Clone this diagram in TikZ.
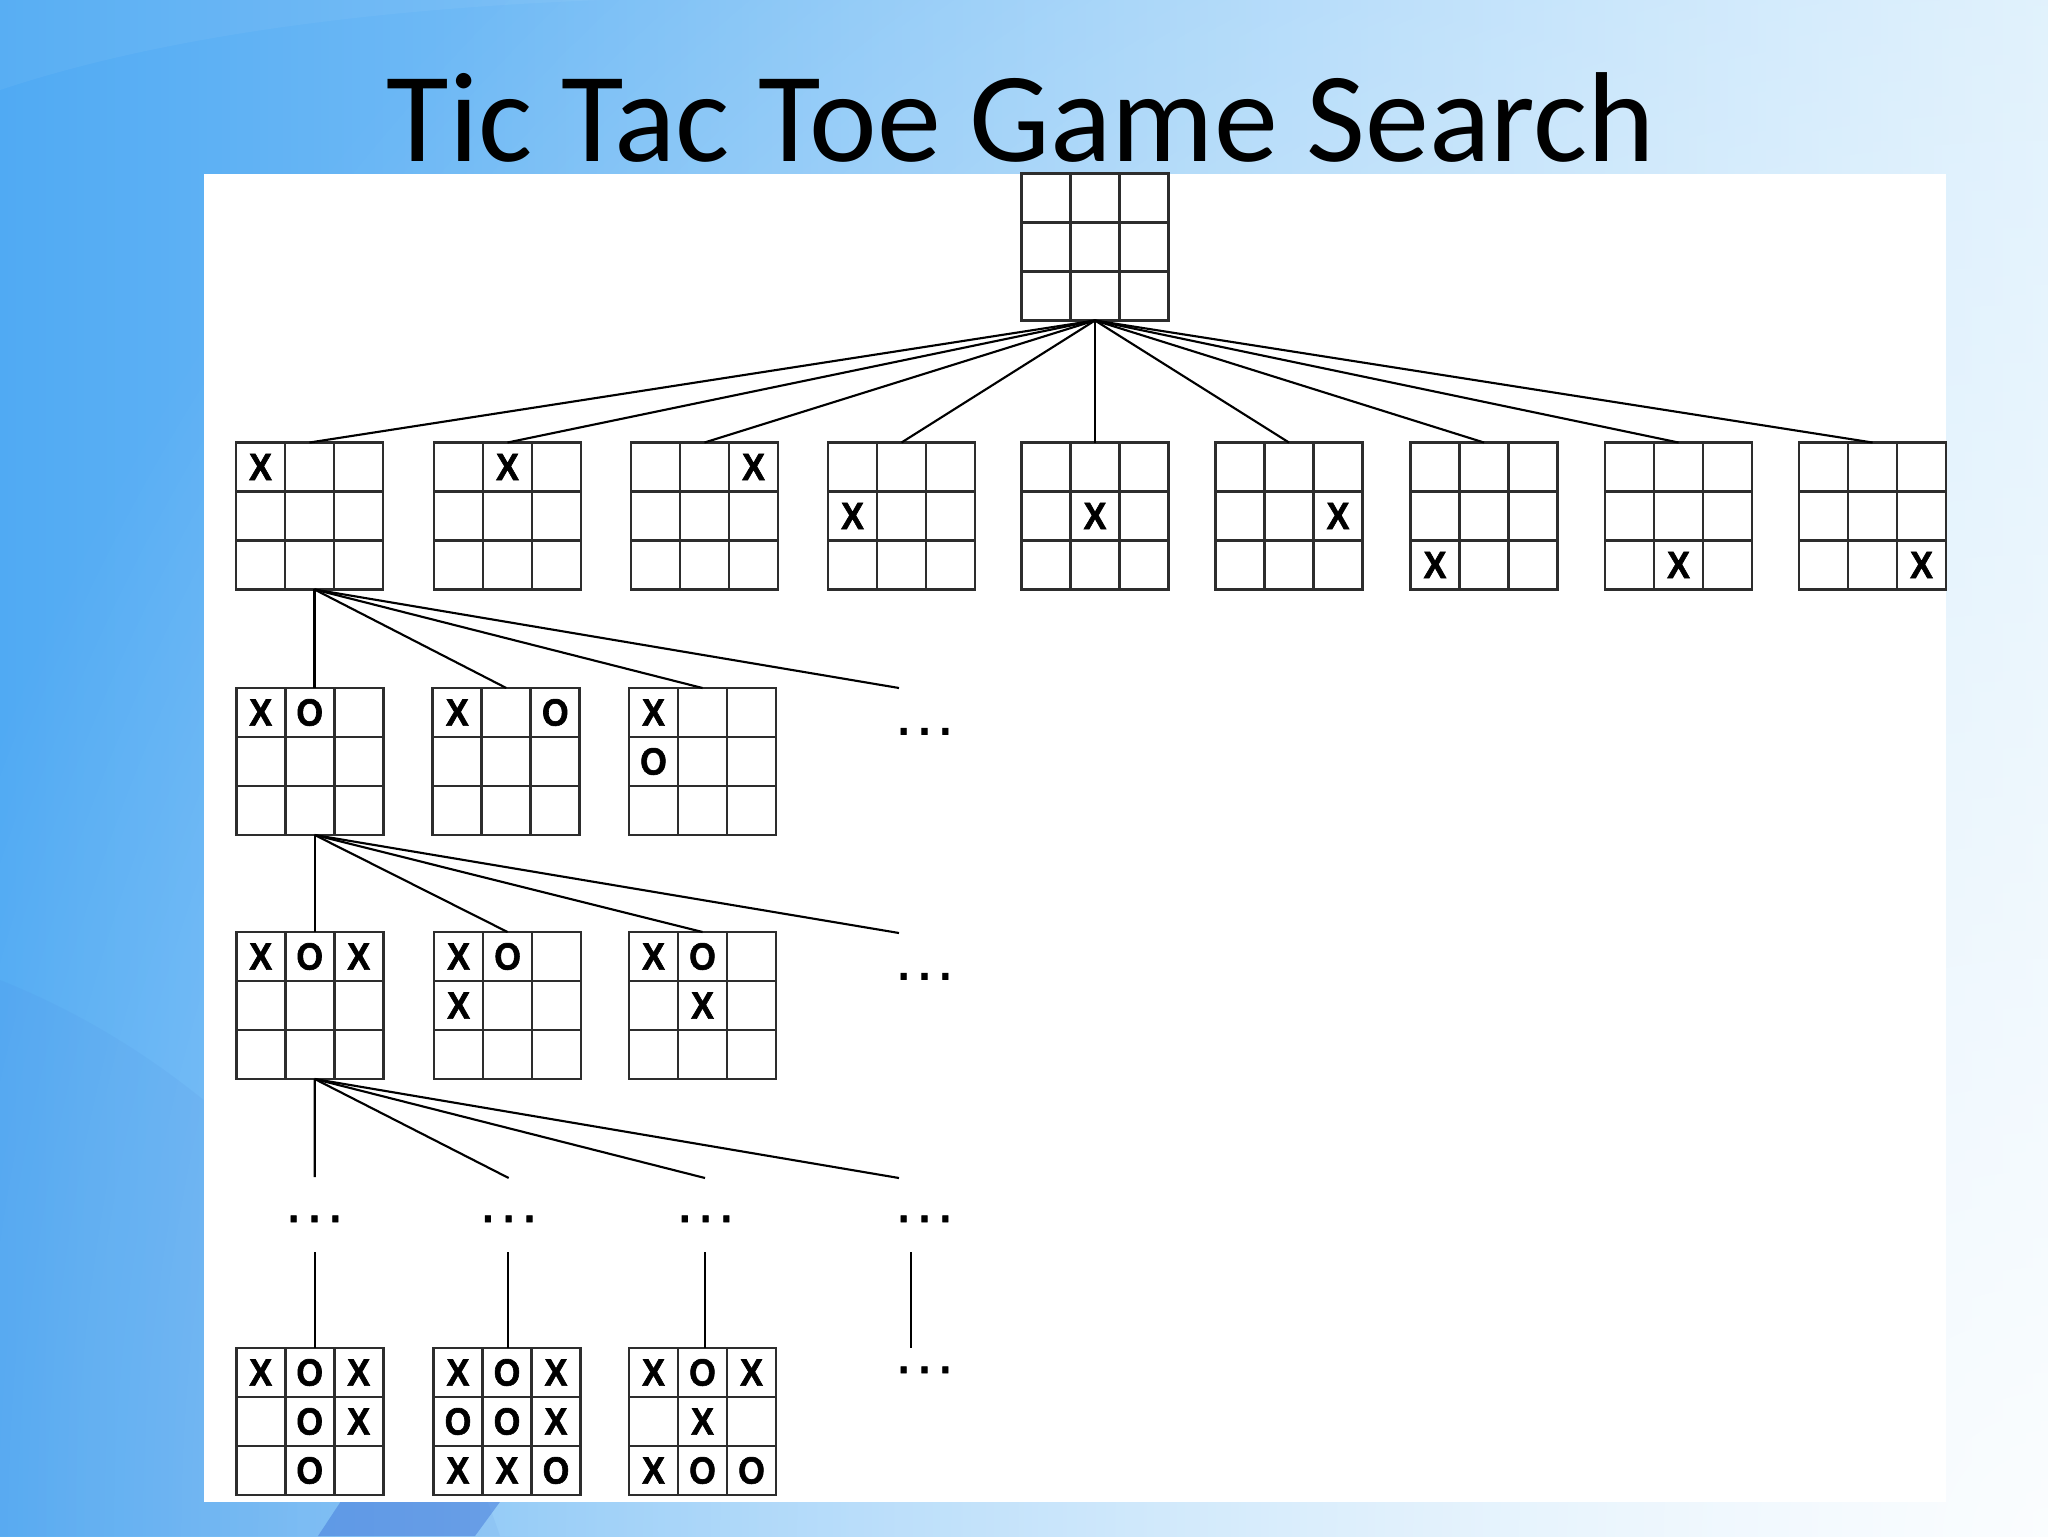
\documentclass[tikz,border=0pt]{standalone}
\usepackage{fontspec}
\newfontfamily\titlefont{Carlito}
\newfontfamily\markfont{Liberation Sans Bold}[FakeBold=1.6, FakeStretch=0.9]
\usetikzlibrary{calc,fadings}
\definecolor{bgL}{RGB}{80,170,243}
\definecolor{bgM}{RGB}{150,208,248}
\definecolor{bgR}{RGB}{214,237,252}
\definecolor{swooshc}{RGB}{66,120,218}
\definecolor{gridc}{RGB}{45,45,45}
\tikzfading[name=radfade, inner color=transparent!10, outer color=transparent!100]
\tikzset{
  board/.style={draw=gridc, line width=0.95pt, minimum size=1.8231cm, inner sep=0pt, outer sep=0pt, fill=white},
  gridline/.style={draw=gridc, line width=0.95pt},
  markc/.style={font=\markfont\fontsize{13.4}{14}\selectfont, inner sep=0pt},
  link/.style={draw=black, line width=0.75pt},
  dotsnode/.style={font=\markfont\fontsize{15}{15}\selectfont, inner sep=0pt, anchor=base},
  titlenode/.style={font=\titlefont\fontsize{45.2}{50}\selectfont, anchor=base, inner sep=0pt},
}
\newcommand\ttboard[3]{%
  \node[board] (#1) at (#2,#3) {};
  \draw[gridline] (#2-24.5,#3-73.5) -- (#2-24.5,#3+73.5)
                  (#2+24.5,#3-73.5) -- (#2+24.5,#3+73.5)
                  (#2-73.5,#3-24.5) -- (#2+73.5,#3-24.5)
                  (#2-73.5,#3+24.5) -- (#2+73.5,#3+24.5);
}
\newcommand\ttmarks[3]{%
  \foreach \cc/\rr/\mm in {#3} {\node[markc] at (#1-49+49*\cc, #2-49+49*\rr) {\mm};}
}
\newcommand\tttdots[3]{\node[dotsnode] (#1) at (#2,#3) {.\kern3.6pt.\kern3.6pt.};}
\begin{document}
\begin{tikzpicture}[x=0.0124023cm, y=-0.0124023cm]
\useasboundingbox (0,0) rectangle (2048,1536);
% background
\begin{scope}
\clip (0,0) rectangle (2048,1536);
\shade[left color=bgL, middle color=bgM, right color=bgR] (0,0) rectangle (2048,1536);
\fill[white, path fading=radfade] (2048,1536) circle (2200);
\fill[swooshc, opacity=0.08] (0,980) .. controls (250,1080) and (420,1300) .. (500,1536)
   -- (0,1536) -- cycle;
\fill[swooshc, opacity=0.5] (318,1536) -- (345,1495) -- (505,1495) -- (475,1536) -- cycle;
\fill[white, opacity=0.05] (0,0) -- (0,90) .. controls (150,40) and (350,10) .. (600,0) -- cycle;
\end{scope}
% title
\node[titlenode] (title) at (1021,161) {Tic Tac Toe Game Search};
% panel
\fill[white] (204,174) rectangle (1946,1502);
% boards
\ttboard{root}{1095}{247}
\def\ya{516}
\ttboard{r1a}{309.5}{\ya}\ttmarks{309.5}{\ya}{0/0/X}
\ttboard{r1b}{507.5}{\ya}\ttmarks{507.5}{\ya}{1/0/X}
\ttboard{r1c}{704.5}{\ya}\ttmarks{704.5}{\ya}{2/0/X}
\ttboard{r1d}{901.5}{\ya}\ttmarks{901.5}{\ya}{0/1/X}
\ttboard{r1e}{1095}{\ya}\ttmarks{1095}{\ya}{1/1/X}
\ttboard{r1f}{1289}{\ya}\ttmarks{1289}{\ya}{2/1/X}
\ttboard{r1g}{1484}{\ya}\ttmarks{1484}{\ya}{0/2/X}
\ttboard{r1h}{1678.5}{\ya}\ttmarks{1678.5}{\ya}{1/2/X}
\ttboard{r1i}{1872.5}{\ya}\ttmarks{1872.5}{\ya}{2/2/X}
\def\yb{761.5}
\ttboard{r2a}{309.7}{\yb}\ttmarks{309.7}{\yb}{0/0/X,1/0/O}
\ttboard{r2b}{506.3}{\yb}\ttmarks{506.3}{\yb}{0/0/X,2/0/O}
\ttboard{r2c}{702.5}{\yb}\ttmarks{702.5}{\yb}{0/0/X,0/1/O}
\def\yc{1005.5}
\ttboard{r3a}{309.7}{\yc}\ttmarks{309.7}{\yc}{0/0/X,1/0/O,2/0/X}
\ttboard{r3b}{507.6}{\yc}\ttmarks{507.6}{\yc}{0/0/X,1/0/O,0/1/X}
\ttboard{r3c}{702.5}{\yc}\ttmarks{702.5}{\yc}{0/0/X,1/0/O,1/1/X}
\def\yd{1421.5}
\ttboard{r5a}{309.7}{\yd}\ttmarks{309.7}{\yd}{0/0/X,1/0/O,2/0/X,1/1/O,2/1/X,1/2/O}
\ttboard{r5b}{507}{\yd}\ttmarks{507}{\yd}{0/0/X,1/0/O,2/0/X,0/1/O,1/1/O,2/1/X,0/2/X,1/2/X,2/2/O}
\ttboard{r5c}{702.5}{\yd}\ttmarks{702.5}{\yd}{0/0/X,1/0/O,2/0/X,1/1/X,0/2/X,1/2/O,2/2/O}
% dots
\tttdots{d2}{924.5}{734.5}
\tttdots{d3}{924.5}{979.5}
\tttdots{d4a}{314.5}{1222}
\tttdots{d4b}{508.7}{1222}
\tttdots{d4c}{705.6}{1222}
\tttdots{d4d}{924.5}{1222}
\tttdots{d5}{924.5}{1373}
% connectors level 1
\foreach \b in {r1a,r1b,r1c,r1d,r1e,r1f,r1g,r1h,r1i} {\draw[link] (root.south) -- (\b.north);}
% level 2
\coordinate (f1) at ($(r1a.south)+(5,0)$);
\coordinate (e2) at (899,688);
\draw[link] (f1) -- (f1 |- r2a.north);
\draw[link] (f1) -- (r2b.north);
\draw[link] (f1) -- (r2c.north);
\draw[link] (f1) -- (e2);
% level 3
\coordinate (f2) at ($(r2a.south)+(5,0)$);
\coordinate (e3) at (899,933);
\draw[link] (f2) -- (f2 |- r3a.north);
\draw[link] (f2) -- (r3b.north);
\draw[link] (f2) -- (r3c.north);
\draw[link] (f2) -- (e3);
% level 4
\coordinate (f3) at ($(r3a.south)+(5,0)$);
\coordinate (e4a) at (314.8,1177);
\coordinate (e4b) at (508.7,1178);
\coordinate (e4c) at (705,1178);
\coordinate (e4d) at (899,1178);
\draw[link] (f3) -- (e4a);
\draw[link] (f3) -- (e4b);
\draw[link] (f3) -- (e4c);
\draw[link] (f3) -- (e4d);
% level 5
\coordinate (s5a) at (314.8,1252);
\coordinate (s5b) at (508,1252);
\coordinate (s5c) at (705,1252);
\coordinate (s5d) at (910.7,1252);
\coordinate (t5d) at (910.7,1348);
\draw[link] (s5a) -- (s5a |- r5a.north);
\draw[link] (s5b) -- (s5b |- r5b.north);
\draw[link] (s5c) -- (s5c |- r5c.north);
\draw[link] (s5d) -- (t5d);
\end{tikzpicture}
\end{document}
